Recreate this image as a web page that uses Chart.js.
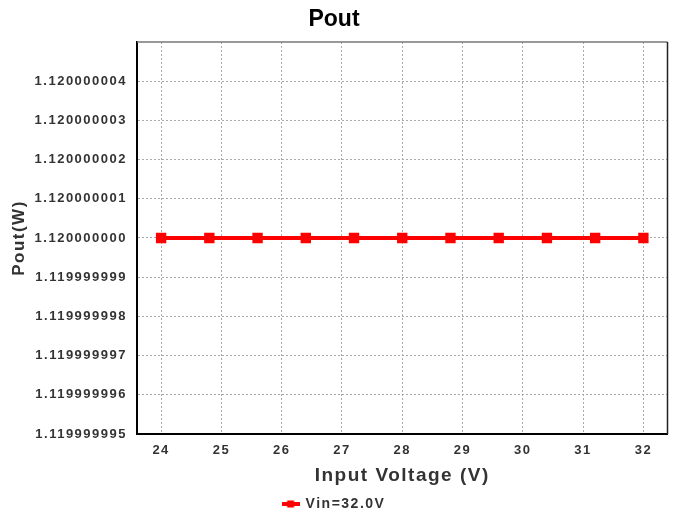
<!DOCTYPE html>
<html>
<head>
<meta charset="utf-8">
<title>Pout</title>
<script src="https://cdn.jsdelivr.net/npm/chart.js@4/dist/chart.umd.min.js"></script>
<style>
  body { margin: 0; background: #fff; }
</style>
</head>
<body>
<canvas id="chart" width="676" height="516"></canvas>
<script>
// data
const inputVoltage = [24, 24.8, 25.6, 26.4, 27.2, 28, 28.8, 29.6, 30.4, 31.2, 32];
const poutValues = [1.12, 1.12, 1.12, 1.12, 1.12, 1.12, 1.12, 1.12, 1.12, 1.12, 1.12];
const xTicks = [24, 25, 26, 27, 28, 29, 30, 31, 32];
const yTicks = [1.119999995, 1.119999996, 1.119999997, 1.119999998, 1.119999999,
                1.120000000, 1.120000001, 1.120000002, 1.120000003, 1.120000004];
const seriesLabel = 'Vin=32.0V';

const FONT = 'Liberation Sans, Arial, sans-serif';

// legend marker: short red line with a square on it
const marker = document.createElement('canvas');
marker.width = 18; marker.height = 8;
const mctx = marker.getContext('2d');
mctx.fillStyle = '#ff0000';
mctx.fillRect(0, 2, 18, 4);
mctx.fillRect(5.5, 0.5, 7, 7);

// the axis text in the reference is spaced out, the title is not
const spacing = {
  id: 'spacing',
  afterInit(chart) {
    const box = chart.titleBlock;
    const draw = box.draw.bind(box);
    box.draw = function () {
      chart.ctx.letterSpacing = '0px';
      draw();
      chart.ctx.letterSpacing = '1.5px';
    };
  },
  beforeUpdate(chart) { chart.ctx.letterSpacing = '1.5px'; },
  beforeDraw(chart) { chart.ctx.letterSpacing = '1.5px'; }
};

// top and right edges of the plot frame
const frame = {
  id: 'frame',
  afterDraw(chart) {
    const {ctx, chartArea: a} = chart;
    ctx.save();
    ctx.lineWidth = 1.5;
    ctx.strokeStyle = '#777';
    ctx.beginPath(); ctx.moveTo(a.left, a.top); ctx.lineTo(a.right, a.top); ctx.stroke();
    ctx.strokeStyle = '#222';
    ctx.beginPath(); ctx.moveTo(a.right, a.top); ctx.lineTo(a.right, a.bottom); ctx.stroke();
    ctx.restore();
  }
};

const ctx = document.getElementById('chart').getContext('2d');
const chart = new Chart(ctx, {
  type: 'line',
  data: {
    datasets: [{
      label: seriesLabel,
      data: inputVoltage.map((v, i) => ({x: v, y: poutValues[i]})),
      borderColor: '#ff0000',
      backgroundColor: '#ff0000',
      borderWidth: 4,
      pointStyle: 'rect',
      pointRadius: 4.5,
      pointHoverRadius: 4.5,
      tension: 0
    }]
  },
  options: {
    responsive: false,
    animation: false,
    layout: { padding: { left: 0, right: 8, top: 0, bottom: -5 } },
    plugins: {
      title: {
        display: true,
        text: 'Pout',
        color: '#000',
        font: { family: FONT, size: 23, weight: 'bold' },
        padding: { top: 6, bottom: 8.4 }
      },
      legend: {
        position: 'bottom',
        labels: {
          usePointStyle: true,
          pointStyle: marker,
          pointStyleWidth: 16,
          color: '#333',
          padding: 6,
          font: { family: FONT, size: 14, weight: 'bold' }
        }
      },
      tooltip: { enabled: false }
    },
    scales: {
      x: {
        type: 'linear',
        min: 23.6,
        max: 32.4,
        afterBuildTicks: s => { s.ticks = xTicks.map(v => ({value: v})); },
        afterFit: s => { s.height = 57; },
        ticks: {
          color: '#333',
          padding: 9,
          font: { family: FONT, size: 13, weight: 'bold' }
        },
        grid: { color: '#aaa', drawTicks: false },
        border: { color: '#000', width: 2, dash: [2, 2] },
        title: {
          display: true,
          text: 'Input Voltage (V)',
          color: '#333',
          font: { family: FONT, size: 19, weight: 'bold' },
          padding: { top: 0, bottom: 4 }
        }
      },
      y: {
        type: 'linear',
        min: 1.119999995,
        max: 1.120000005,
        afterBuildTicks: s => { s.ticks = yTicks.map(v => ({value: v})); },
        afterFit: s => { s.width = 137; },
        ticks: {
          color: '#333',
          padding: 10,
          font: { family: FONT, size: 13, weight: 'bold' },
          callback: v => v.toFixed(9)
        },
        grid: { color: '#aaa', drawTicks: false },
        border: { color: '#000', width: 2, dash: [2, 2] },
        title: {
          display: true,
          text: 'Pout(W)',
          color: '#333',
          font: { family: FONT, size: 17, weight: 'bold' },
          padding: { top: 9, bottom: 0 }
        }
      }
    }
  },
  plugins: [spacing, frame]
});
</script>
</body>
</html>
